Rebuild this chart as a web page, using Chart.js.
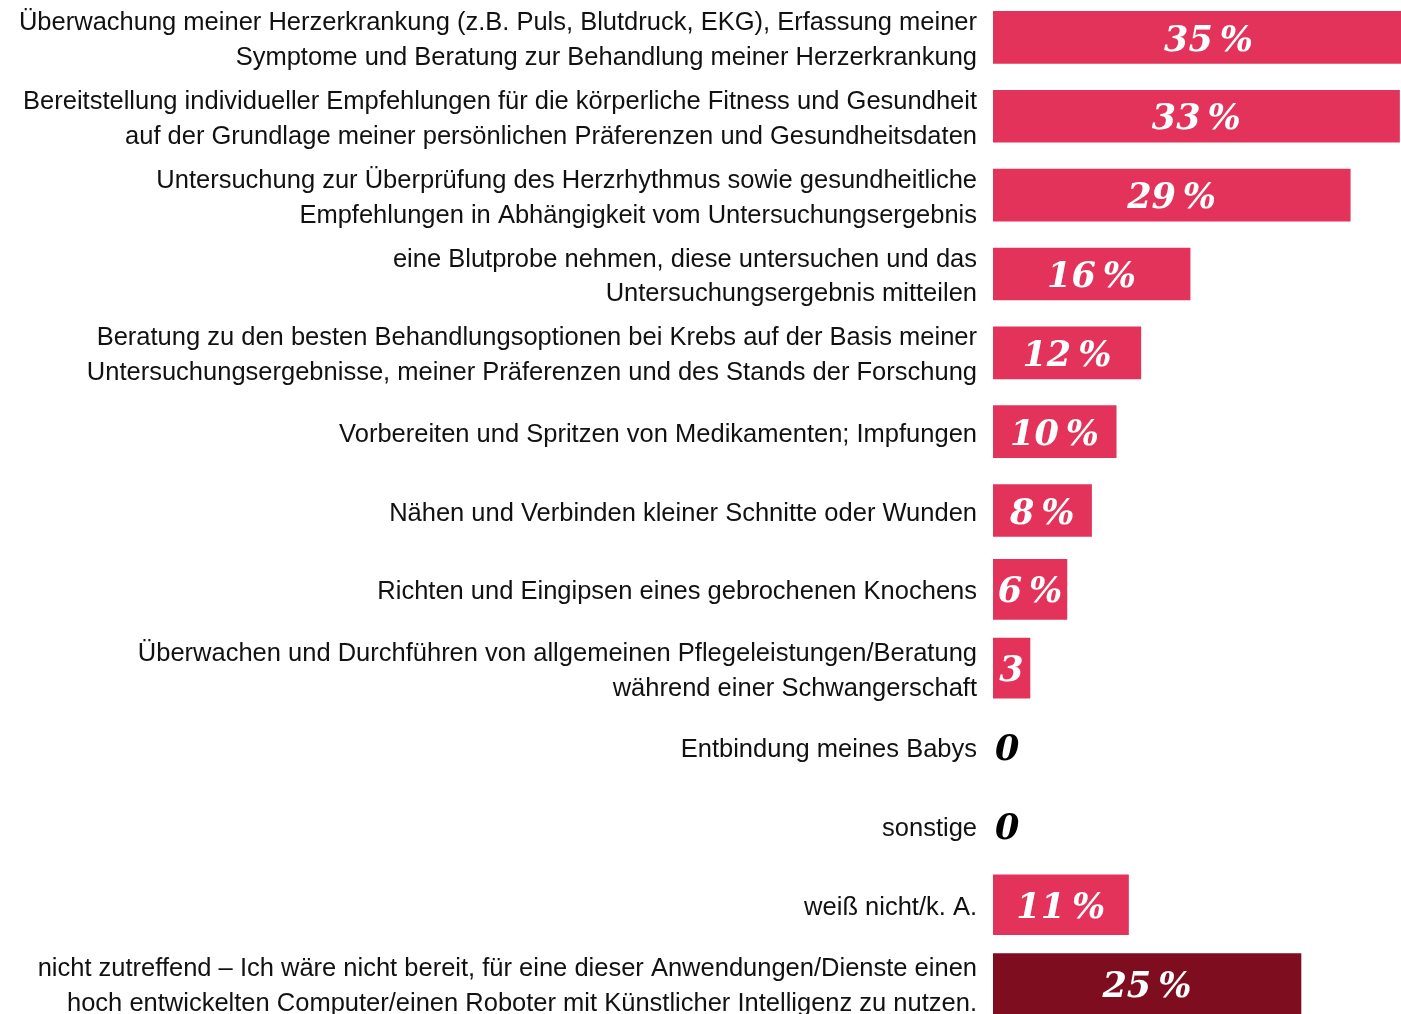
<!DOCTYPE html>
<html>
<head>
<meta charset="utf-8">
<script src="https://cdn.jsdelivr.net/npm/chart.js@4/dist/chart.umd.min.js"></script>
<style>
html,body{margin:0;padding:0;background:#fff;overflow:hidden;width:1401px;height:1014px;}
#wrap{position:absolute;left:0;top:-2px;width:1401px;height:1025px;}
</style>
</head>
<body>
<div id="wrap"><canvas id="c"></canvas></div>
<script>
const categories = [
  ["Überwachung meiner Herzerkrankung (z.B. Puls, Blutdruck, EKG), Erfassung meiner", "Symptome und Beratung zur Behandlung meiner Herzerkrankung"],
  ["Bereitstellung individueller Empfehlungen für die körperliche Fitness und Gesundheit", "auf der Grundlage meiner persönlichen Präferenzen und Gesundheitsdaten"],
  ["Untersuchung zur Überprüfung des Herzrhythmus sowie gesundheitliche", "Empfehlungen in Abhängigkeit vom Untersuchungsergebnis"],
  ["eine Blutprobe nehmen, diese untersuchen und das", "Untersuchungsergebnis mitteilen"],
  ["Beratung zu den besten Behandlungsoptionen bei Krebs auf der Basis meiner", "Untersuchungsergebnisse, meiner Präferenzen und des Stands der Forschung"],
  "Vorbereiten und Spritzen von Medikamenten; Impfungen",
  "Nähen und Verbinden kleiner Schnitte oder Wunden",
  "Richten und Eingipsen eines gebrochenen Knochens",
  ["Überwachen und Durchführen von allgemeinen Pflegeleistungen/Beratung", "während einer Schwangerschaft"],
  "Entbindung meines Babys",
  "sonstige",
  "weiß nicht/k. A.",
  ["nicht zutreffend – Ich wäre nicht bereit, für eine dieser Anwendungen/Dienste einen", "hoch entwickelten Computer/einen Roboter mit Künstlicher Intelligenz zu nutzen."]
];
const values = [35, 33, 29, 16, 12, 10, 8, 6, 3, 0, 0, 11, 25];
const valueLabels = ["35\u2009%", "33\u2009%", "29\u2009%", "16\u2009%", "12\u2009%", "10\u2009%", "8\u2009%", "6\u2009%", "3", "0", "0", "11\u2009%", "25\u2009%"];
const barColors = ["#E3335A","#E3335A","#E3335A","#E3335A","#E3335A","#E3335A","#E3335A","#E3335A","#E3335A","#E3335A","#E3335A","#E3335A","#7E0D20"];

const upperValues = values.map((v, i) => i < 7 ? v : null);
const lowerValues = values.map((v, i) => i >= 7 ? v : null);
const barColor = (c) => c.raw === 0 ? 'rgba(0,0,0,0)' : barColors[c.dataIndex];

const valueLabelPlugin = {
  id: 'valueLabels',
  afterDatasetsDraw(chart) {
    const ctx = chart.ctx;
    const xs = chart.scales.x, ys = chart.scales.y;
    ctx.save();
    ctx.font = 'italic bold 35px "DejaVu Serif"';
    ctx.textBaseline = 'middle';
    values.forEach((v, i) => {
      const y = ys.getPixelForValue(i) + 4;
      const x0 = xs.getPixelForValue(0);
      if (v === 0) {
        ctx.fillStyle = '#000';
        ctx.textAlign = 'left';
        ctx.fillText(valueLabels[i], x0 + 2, y);
      } else {
        const x1 = xs.getPixelForValue(v);
        ctx.fillStyle = '#fff';
        ctx.textAlign = 'center';
        ctx.fillText(valueLabels[i], (x0 + x1) / 2, y);
      }
    });
    ctx.restore();
  }
};

new Chart(document.getElementById('c'), {
  type: 'bar',
  data: {
    labels: categories,
    datasets: [
      { data: upperValues, backgroundColor: barColor, barThickness: 52, grouped: false },
      { data: lowerValues, backgroundColor: barColor, barThickness: 60, grouped: false }
    ]
  },
  options: {
    indexAxis: 'y',
    responsive: true,
    maintainAspectRatio: false,
    animation: false,
    layout: { padding: 0 },
    plugins: { legend: { display: false }, tooltip: { enabled: false } },
    scales: {
      x: { display: false, min: 0, max: 33.12 },
      y: {
        afterFit(scale) { scale.width = 993; scale.paddingTop = 0; scale.paddingBottom = 0; },
        grid: { display: false, drawTicks: false },
        border: { display: false },
        ticks: {
          color: '#111',
          padding: 16,
          labelOffset: 3,
          font: { family: '"Liberation Sans", Arial, sans-serif', size: 25.5, lineHeight: 1.37 },
          autoSkip: false
        }
      }
    }
  },
  plugins: [valueLabelPlugin]
});
</script>
</body>
</html>
